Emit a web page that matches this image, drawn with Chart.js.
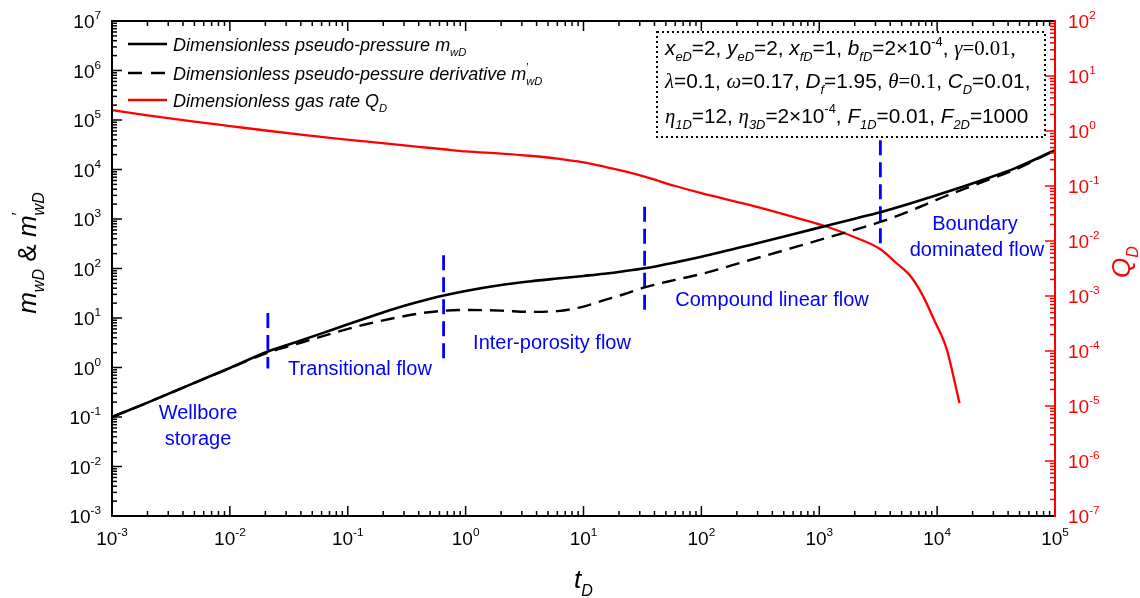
<!DOCTYPE html>
<html>
<head>
<meta charset="utf-8">
<script src="https://cdn.jsdelivr.net/npm/chart.js@4.4.1/dist/chart.umd.min.js"></script>
<style>
  html, body { margin: 0; padding: 0; background: #fff; }
  #wrap { width: 1140px; height: 598px; position: relative; }
</style>
</head>
<body>
<div id="wrap"><canvas id="c"></canvas></div>
<script>
// dimensionless time for the pressure curves
const tD = [0.001, 0.002, 0.005, 0.01, 0.021, 0.04, 0.074, 0.14, 0.25, 0.4, 0.65, 1, 2, 3.5, 6, 10, 15, 22, 33, 60, 100, 250, 600, 1200, 2000, 3300, 6000, 12000, 25000, 45000, 100000];
const mwD = [0.1, 0.195, 0.49, 0.98, 2.1, 3.5, 5.8, 9.8, 15.4, 21.2, 28.4, 35.2, 46.4, 54.8, 62.7, 70.8, 78.3, 87.9, 101, 133, 173, 292, 493, 748, 1016, 1374, 2084, 3508, 6310, 10400, 24500];
const dmwD = [0.1, 0.195, 0.49, 0.97, 2.0, 3.16, 4.9, 7.4, 10, 12.3, 14, 14.5, 14.1, 13.3, 13.8, 17, 22.9, 30.2, 41.5, 58.9, 77.6, 145, 263, 427, 603, 871, 1480, 2950, 5750, 9770, 24500];

// gas rate (right axis)
const tQ = [0.001, 0.002, 0.005, 0.01, 0.021, 0.04, 0.074, 0.14, 0.25, 0.4, 0.65, 1, 2, 3.5, 6, 10, 15, 22, 33, 60, 100, 250, 600, 1200, 2000, 3300, 4500, 6000, 7500, 9500, 12000, 15500];
const qD = [2.39, 1.93, 1.48, 1.23, 1.01, 0.861, 0.745, 0.646, 0.569, 0.515, 0.466, 0.425, 0.389, 0.355, 0.316, 0.269, 0.224, 0.186, 0.148, 0.1, 0.0741, 0.0457, 0.0275, 0.0178, 0.0117, 0.00708, 0.00398, 0.00224, 0.00105, 0.000355, 0.000112, 0.0000112];

// flow regime boundaries (blue dashed markers)
const regimeT = [0.021, 0.65, 33, 3300];
const regimeTop = [12.6, 186, 1760, 39000];
const regimeBottom = [0.95, 1.31, 11.5, 275];

// tick exponents
const xExp = [-3, -2, -1, 0, 1, 2, 3, 4, 5];
const yExp = [-3, -2, -1, 0, 1, 2, 3, 4, 5, 6, 7];
const y2Exp = [-7, -6, -5, -4, -3, -2, -1, 0, 1, 2];

const SANS = '"Liberation Sans", Arial, sans-serif';
const SERIF = '"Liberation Serif", "Times New Roman", serif';
const RED = '#ff0000';
const BLUE = '#0000ff';

function drawRich(ctx, parts, x, y, size, align) {
  let w = 0;
  const items = parts.map(p => {
    const s = (p.sub || p.sup) ? size * 0.62 : size;
    const font = `${p.i ? 'italic ' : ''}${s}px ${p.serif ? SERIF : SANS}`;
    ctx.font = font;
    const width = ctx.measureText(p.t).width;
    const dy = p.sub ? size * 0.3 : p.sup ? -size * 0.45 : 0;
    if (!p.hold) w += width;
    return { t: p.t, font, width, dy, hold: p.hold };
  });
  let cx = align === 'center' ? x - w / 2 : align === 'right' ? x - w : x;
  for (const it of items) {
    ctx.font = it.font;
    ctx.fillText(it.t, cx, y + it.dy);
    if (!it.hold) cx += it.width;
  }
  return w;
}

function seg(ctx, x1, y1, x2, y2) {
  ctx.beginPath();
  ctx.moveTo(x1, y1);
  ctx.lineTo(x2, y2);
  ctx.stroke();
}

const framePlugin = {
  id: 'frame',
  afterDraw(chart) {
    const ctx = chart.ctx;
    const a = chart.chartArea;
    const xs = chart.scales.x, yl = chart.scales.y, yr = chart.scales.y2;
    ctx.save();
    ctx.textBaseline = 'alphabetic';

    // tick marks, inward on every side
    ctx.lineWidth = 1.5;
    ctx.strokeStyle = '#000';
    xExp.forEach((e, idx) => {
      for (let k = 1; k <= 9; k++) {
        if (idx === xExp.length - 1 && k > 1) break;
        const px = xs.getPixelForValue(k * Math.pow(10, e));
        const len = k === 1 ? 10 : 5;
        seg(ctx, px, a.bottom, px, a.bottom - len);
        seg(ctx, px, a.top, px, a.top + len);
      }
    });
    yExp.forEach((e, idx) => {
      for (let k = 1; k <= 9; k++) {
        if (idx === yExp.length - 1 && k > 1) break;
        const py = yl.getPixelForValue(k * Math.pow(10, e));
        seg(ctx, a.left, py, a.left + (k === 1 ? 10 : 5), py);
      }
    });
    ctx.strokeStyle = RED;
    y2Exp.forEach((e, idx) => {
      for (let k = 1; k <= 9; k++) {
        if (idx === y2Exp.length - 1 && k > 1) break;
        const py = yr.getPixelForValue(k * Math.pow(10, e));
        seg(ctx, a.right, py, a.right - (k === 1 ? 10 : 5), py);
      }
    });

    // frame
    ctx.lineWidth = 2;
    ctx.strokeStyle = '#000';
    seg(ctx, a.left, a.top, a.left, a.bottom);
    seg(ctx, a.left - 1, a.bottom, a.right, a.bottom);
    seg(ctx, a.left - 1, a.top, a.right, a.top);
    ctx.strokeStyle = RED;
    seg(ctx, a.right, a.top - 1, a.right, a.bottom + 1);

    // tick labels
    ctx.fillStyle = '#000';
    for (const e of xExp) {
      drawRich(ctx, [{ t: '10' }, { t: String(e), sup: true }], xs.getPixelForValue(Math.pow(10, e)), a.bottom + 29, 19, 'center');
    }
    for (const e of yExp) {
      drawRich(ctx, [{ t: '10' }, { t: String(e), sup: true }], 101, yl.getPixelForValue(Math.pow(10, e)) + 7, 19, 'right');
    }
    ctx.fillStyle = RED;
    for (const e of y2Exp) {
      drawRich(ctx, [{ t: '10' }, { t: String(e), sup: true }], a.right + 13, yr.getPixelForValue(Math.pow(10, e)) + 7, 19, 'left');
    }

    // axis titles
    ctx.fillStyle = '#000';
    drawRich(ctx, [{ t: 't', i: true }, { t: 'D', i: true, sub: true }], (a.left + a.right) / 2, 588, 26, 'center');
    ctx.save();
    ctx.translate(36, 253);
    ctx.rotate(-Math.PI / 2);
    drawRich(ctx, [
      { t: 'm', i: true }, { t: 'wD', i: true, sub: true }, { t: ' & ' },
      { t: 'm', i: true }, { t: '\u2032', sup: true, hold: true }, { t: 'wD', i: true, sub: true },
    ], 0, 0, 26, 'center');
    ctx.restore();
    ctx.save();
    ctx.fillStyle = RED;
    ctx.translate(1130, 262);
    ctx.rotate(-Math.PI / 2);
    drawRich(ctx, [{ t: 'Q', i: true }, { t: 'D', i: true, sub: true }], 0, 0, 26, 'center');
    ctx.restore();

    // legend
    const rows = [
      { y: 44, color: '#000', dash: [], parts: [{ t: 'Dimensionless pseudo-pressure ', i: true }, { t: 'm', i: true }, { t: 'wD', i: true, sub: true }] },
      { y: 73, color: '#000', dash: [14, 9], parts: [{ t: 'Dimensionless pseudo-pessure derivative ', i: true }, { t: 'm', i: true }, { t: '\u2032', sup: true, hold: true }, { t: 'wD', i: true, sub: true }] },
      { y: 100, color: RED, dash: [], parts: [{ t: 'Dimensionless gas rate ', i: true }, { t: 'Q', i: true }, { t: 'D', i: true, sub: true }] },
    ];
    for (const r of rows) {
      ctx.strokeStyle = r.color;
      ctx.lineWidth = 2.5;
      ctx.setLineDash(r.dash);
      seg(ctx, 128, r.y, 167, r.y);
      ctx.setLineDash([]);
      ctx.fillStyle = '#000';
      drawRich(ctx, r.parts, 173, r.y + 6.5, 18, 'left');
    }

    // parameter box
    ctx.strokeStyle = '#000';
    ctx.lineWidth = 2;
    ctx.setLineDash([2, 3]);
    ctx.strokeRect(657, 32, 388, 105);
    ctx.setLineDash([]);
    ctx.fillStyle = '#000';
    const box = [
      [{ t: 'x', i: true }, { t: 'eD', i: true, sub: true }, { t: '=2, ' }, { t: 'y', i: true }, { t: 'eD', i: true, sub: true }, { t: '=2, ' },
       { t: 'x', i: true }, { t: 'fD', i: true, sub: true }, { t: '=1, ' }, { t: 'b', i: true }, { t: 'fD', i: true, sub: true },
       { t: '=2\u00d710' }, { t: '-4', sup: true }, { t: ', ' }, { t: '\u03b3', i: true, serif: true }, { t: '=0.01,', serif: true }],
      [{ t: '\u03bb', i: true, serif: true }, { t: '=0.1, ' }, { t: '\u03c9', i: true, serif: true }, { t: '=0.17, ' },
       { t: 'D', i: true }, { t: 'f', i: true, sub: true }, { t: '=1.95, ' }, { t: '\u03b8', i: true, serif: true }, { t: '=0.1', serif: true },
       { t: ', ' }, { t: 'C', i: true }, { t: 'D', i: true, sub: true }, { t: '=0.01,' }],
      [{ t: '\u03b7', i: true, serif: true }, { t: '1D', i: true, sub: true }, { t: '=12, ' }, { t: '\u03b7', i: true, serif: true }, { t: '3D', i: true, sub: true },
       { t: '=2\u00d710' }, { t: '-4', sup: true }, { t: ', ' }, { t: 'F', i: true }, { t: '1D', i: true, sub: true }, { t: '=0.01, ' },
       { t: 'F', i: true }, { t: '2D', i: true, sub: true }, { t: '=1000' }],
    ];
    const baselines = [55, 87.5, 122.5];
    box.forEach((parts, i) => drawRich(ctx, parts, 665, baselines[i], 20.8, 'left'));

    // flow regime labels
    ctx.fillStyle = BLUE;
    ctx.font = `20px ${SANS}`;
    ctx.textAlign = 'center';
    ctx.textBaseline = 'middle';
    const labels = [
      ['Wellbore', 198, 413], ['storage', 198, 439], ['Transitional flow', 360, 369],
      ['Inter-porosity flow', 552, 343], ['Compound linear flow', 772, 300],
      ['Boundary', 975, 224], ['dominated flow', 977, 250],
    ];
    for (const [t, x, y] of labels) ctx.fillText(t, x, y);
    ctx.restore();
  },
};

const pts = (xs, ys) => xs.map((x, i) => ({ x, y: ys[i] }));

const datasets = [
  { label: 'mwD', data: pts(tD, mwD), yAxisID: 'y', borderColor: '#000', borderWidth: 2.6, cubicInterpolationMode: 'monotone' },
  { label: 'dmwD', data: pts(tD, dmwD), yAxisID: 'y', borderColor: '#000', borderWidth: 2.4, borderDash: [14, 8], cubicInterpolationMode: 'monotone' },
  { label: 'qD', data: pts(tQ, qD), yAxisID: 'y2', borderColor: RED, borderWidth: 2.3, cubicInterpolationMode: 'monotone' },
];
regimeT.forEach((t, i) => {
  datasets.push({
    label: 'regime' + i,
    data: [{ x: t, y: regimeTop[i] }, { x: t, y: regimeBottom[i] }],
    yAxisID: 'y', borderColor: BLUE, borderWidth: 2.8, borderDash: [15, 7],
  });
});

new Chart(document.getElementById('c'), {
  type: 'line',
  data: { datasets },
  options: {
    responsive: true,
    maintainAspectRatio: false,
    animation: false,
    parsing: false,
    layout: { padding: { top: 21, left: 0, right: 0, bottom: 0 } },
    elements: { point: { radius: 0 }, line: { fill: false } },
    plugins: { legend: { display: false }, tooltip: { enabled: false } },
    scales: {
      x: {
        type: 'logarithmic', min: 1e-3, max: 1e5,
        grid: { display: false }, border: { display: false }, ticks: { display: false },
        afterFit: s => { s.height = 82; },
      },
      y: {
        type: 'logarithmic', position: 'left', min: 1e-3, max: 1e7,
        grid: { display: false }, border: { display: false }, ticks: { display: false },
        afterFit: s => { s.width = 112; },
      },
      y2: {
        type: 'logarithmic', position: 'right', min: 1e-7, max: 1e2,
        grid: { display: false }, border: { display: false }, ticks: { display: false },
        afterFit: s => { s.width = 85; },
      },
    },
  },
  plugins: [framePlugin],
});
</script>
</body>
</html>
